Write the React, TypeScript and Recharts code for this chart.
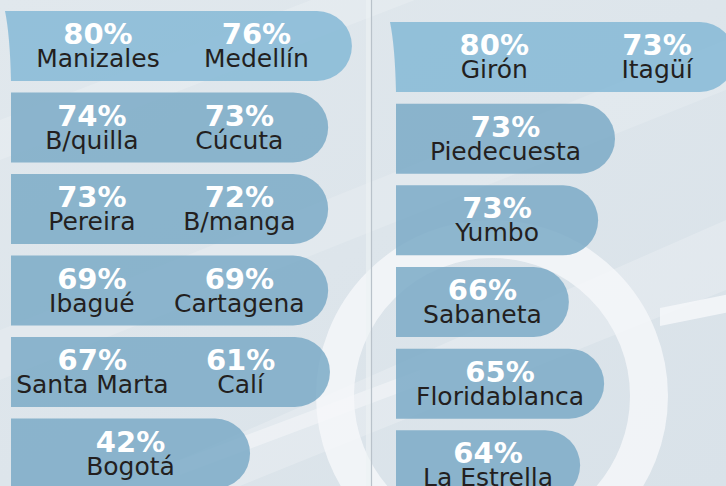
import React from "react";
import { BarChart, Bar, XAxis, YAxis } from "recharts";

// ---- data ----
const leftCitiesA = ["Manizales", "B/quilla", "Pereira", "Ibagué", "Santa Marta", "Bogotá"];
const leftValuesA = [80, 74, 73, 69, 67, 42];
const leftCitiesB = ["Medellín", "Cúcuta", "B/manga", "Cartagena", "Calí", ""];
const leftValuesB = [76, 73, 72, 69, 61, null];
const leftBarExtent = [94.7, 88.1, 88.1, 88.1, 88.6, 66.4];

const rightCitiesA = ["Girón", "Piedecuesta", "Yumbo", "Sabaneta", "Floridablanca", "La Estrella"];
const rightValuesA = [80, 73, 73, 66, 65, 64];
const rightCitiesB = ["Itagüí", "", "", "", "", ""];
const rightValuesB = [73, null, null, null, null, null];
const rightBarExtent = [90.4, 58.4, 53.9, 46.1, 55.5, 49.1];

type Row = {
  key: string;
  cityA: string;
  valueA: number;
  cityB: string;
  valueB: number | null;
  extent: number;
};

function buildRows(
  citiesA: string[],
  valuesA: number[],
  citiesB: string[],
  valuesB: (number | null)[],
  extent: number[]
): Row[] {
  return citiesA.map((c, i) => ({
    key: c,
    cityA: c,
    valueA: valuesA[i],
    cityB: citiesB[i],
    valueB: valuesB[i],
    extent: extent[i],
  }));
}

const leftRows = buildRows(leftCitiesA, leftValuesA, leftCitiesB, leftValuesB, leftBarExtent);
const rightRows = buildRows(rightCitiesA, rightValuesA, rightCitiesB, rightValuesB, rightBarExtent);

const FONT = "'DejaVu Sans', sans-serif";

function Label({ cx, y, city, value }: { cx: number; y: number; city: string; value: number }) {
  return (
    <g>
      <text
        x={cx}
        y={y + 33}
        textAnchor="middle"
        fontFamily={FONT}
        fontWeight="bold"
        fontSize={29}
        fill="#ffffff"
      >
        {`${value}%`}
      </text>
      <text x={cx} y={y + 56} textAnchor="middle" fontFamily={FONT} fontSize={25} fill="#231f20">
        {city}
      </text>
    </g>
  );
}

function Pill(props: any) {
  const { x, y, width, height, payload, index, ra = 0.26, rb = 0.73 } = props;
  const r = height / 2;
  const first = index === 0;
  const right = x + width - r;
  const d = first
    ? `M${x - 6},${y} L${right},${y} A${r},${r} 0 0 1 ${right},${y + height} L${x},${y + height} Q${x - 1},${y + height * 0.35} ${x - 6},${y} Z`
    : `M${x},${y} L${right},${y} A${r},${r} 0 0 1 ${right},${y + height} L${x},${y + height} Z`;
  const fill = first ? "#85b9d6" : "#7baac7";
  const row = payload as Row;
  const two = row.valueB !== null && row.valueB !== undefined;
  return (
    <g>
      <path d={d} fill={fill} fillOpacity={0.85} />
      {two ? (
        <>
          <Label cx={x + width * ra} y={y} city={row.cityA} value={row.valueA} />
          <Label cx={x + width * rb} y={y} city={row.cityB} value={row.valueB as number} />
        </>
      ) : (
        <Label cx={x + width / 2} y={y} city={row.cityA} value={row.valueA} />
      )}
    </g>
  );
}

function Background() {
  return (
    <svg width={726} height={486} style={{ position: "absolute", left: 0, top: 0 }}>
      <defs>
        <linearGradient id="bg" x1="0" y1="0" x2="1" y2="1">
          <stop offset="0" stopColor="#e1e8ed" />
          <stop offset="1" stopColor="#d9e2e9" />
        </linearGradient>
      </defs>
      <rect x={0} y={0} width={726} height={486} fill="url(#bg)" />
      {/* faint diagonal bands */}
      <polygon points="0,120 726,-160 726,-120 0,160" fill="#ffffff" opacity={0.18} />
      <polygon points="0,330 726,40 726,90 0,380" fill="#ffffff" opacity={0.15} />
      <polygon points="120,486 726,220 726,290 240,486" fill="#ffffff" opacity={0.2} />
      <polygon points="180,460 420,370 420,385 180,475" fill="#ffffff" opacity={0.35} />
      {/* magnifier ring */}
      <circle cx={492} cy={396} r={157} fill="none" stroke="#f6f8fa" strokeWidth={38} opacity={0.8} />
      {/* handle */}
      <polygon points="660,308 740,292 740,310 660,326" fill="#f6f8fa" opacity={0.8} />
      {/* divider */}
      <rect x={366} y={0} width={5} height={486} fill="#edf1f4" opacity={0.6} />
      <line x1={371.5} y1={0} x2={371.5} y2={486} stroke="#b9c2ca" strokeWidth={1.2} />
    </svg>
  );
}

export default function App() {
  return (
    <div
      style={{
        position: "fixed",
        left: 0,
        top: 0,
        width: 726,
        height: 486,
        overflow: "hidden",
      }}
    >
      <Background />
      <div style={{ position: "absolute", left: 0, top: 0 }}>
        <BarChart
          width={371}
          height={494}
          data={leftRows}
          layout="vertical"
          margin={{ top: 5, right: 0, bottom: 0, left: 11 }}
          barSize={70}
        >
          <XAxis type="number" domain={[0, 100]} hide />
          <YAxis type="category" dataKey="key" hide />
          <Bar dataKey="extent" shape={<Pill ra={0.255} rb={0.72} />} isAnimationActive={false} />
        </BarChart>
      </div>
      <div style={{ position: "absolute", left: 371, top: 0 }}>
        <BarChart
          width={400}
          height={506}
          data={rightRows}
          layout="vertical"
          margin={{ top: 16, right: 0, bottom: 0, left: 25 }}
          barSize={70}
        >
          <XAxis type="number" domain={[0, 100]} hide />
          <YAxis type="category" dataKey="key" hide />
          <Bar dataKey="extent" shape={<Pill ra={0.29} rb={0.77} />} isAnimationActive={false} />
        </BarChart>
      </div>
    </div>
  );
}
